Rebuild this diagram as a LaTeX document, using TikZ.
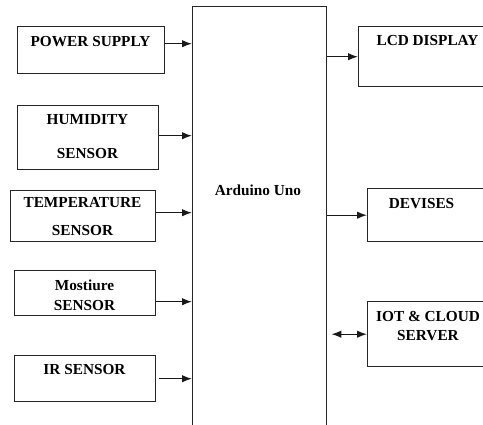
\documentclass[tikz,border=0pt]{standalone}
\usepackage{fontspec}
\setmainfont{Liberation Serif}[BoldFont={Liberation Serif Bold}]
\usetikzlibrary{arrows.meta}
\tikzset{
  blk/.style={draw=black!85, line width=1.4pt, anchor=north west, inner sep=0pt},
  lbl/.style={font=\fontsize{15.3}{17}\selectfont\bfseries, align=center, inner sep=0pt},
  arr/.style={-{Latex[length=10pt,width=7.5pt]}, line width=1.4pt, draw=black!90},
  biarr/.style={{Latex[length=10pt,width=7.5pt]}-{Latex[length=10pt,width=7.5pt]}, line width=1.4pt, draw=black!90}
}
\begin{document}
\begin{tikzpicture}[x=1pt,y=-1pt]
    \useasboundingbox (0,0) rectangle (483,424);
    \clip (0,0) rectangle (483,424);

    % controller
    \node[blk, minimum width=134, minimum height=430] (uno) at (192,6) {};
    \node[lbl] (uno-t) at (258,190) {Arduino Uno};

    % inputs
    \node[blk, minimum width=147, minimum height=47] (power) at (17,26) {};
    \node[blk, minimum width=141, minimum height=64] (humid) at (17,105) {};
    \node[blk, minimum width=145, minimum height=51] (temp) at (10,190) {};
    \node[blk, minimum width=141, minimum height=45] (moist) at (14,270) {};
    \node[blk, minimum width=141, minimum height=46] (ir) at (14,355) {};

    \node[lbl] (power-t) at (90.5,42) {POWER SUPPLY};
    \node[lbl] (humid-t) at (87.5,137) {HUMIDITY\\[17pt]SENSOR};
    \node[lbl] (temp-t) at (82.5,217) {TEMPERATURE\\[11pt]SENSOR};
    \node[lbl] (moist-t) at (84.5,295) {Mostiure\\[3pt]SENSOR};
    \node[lbl] (ir-t) at (84.5,370) {IR SENSOR};

    % outputs
    \node[blk, minimum width=140, minimum height=60] (lcd) at (358,26) {};
    \node[blk, minimum width=130, minimum height=53] (dev) at (367,188) {};
    \node[blk, minimum width=130, minimum height=65] (iot) at (367,301) {};

    \node[lbl] (lcd-t) at (427.5,41) {LCD DISPLAY};
    \node[lbl] (dev-t) at (421.5,204) {DEVISES};
    \node[lbl] (iot-t) at (428,326.5) {IOT \& CLOUD\\[2pt]SERVER};

    % links
    \draw[arr] ([yshift=6.5pt]power.east) -- ([yshift=6.5pt]power.east -| uno.west);
    \draw[arr] ([yshift=2pt]humid.east) -- ([yshift=2pt]humid.east -| uno.west);
    \draw[arr] ([yshift=3.5pt]temp.east) -- ([yshift=3.5pt]temp.east -| uno.west);
    \draw[arr] ([yshift=-8.5pt]moist.east) -- ([yshift=-8.5pt]moist.east -| uno.west);
    \draw[arr, shorten <=3pt] (ir.east) -- (ir.east -| uno.west);
    \draw[arr] (lcd.west -| uno.east) -- (lcd.west);
    \draw[arr] (dev.west -| uno.east) -- (dev.west);
    \draw[biarr, shorten <=4pt] (iot.west -| uno.east) -- (iot.west);
\end{tikzpicture}
\end{document}
